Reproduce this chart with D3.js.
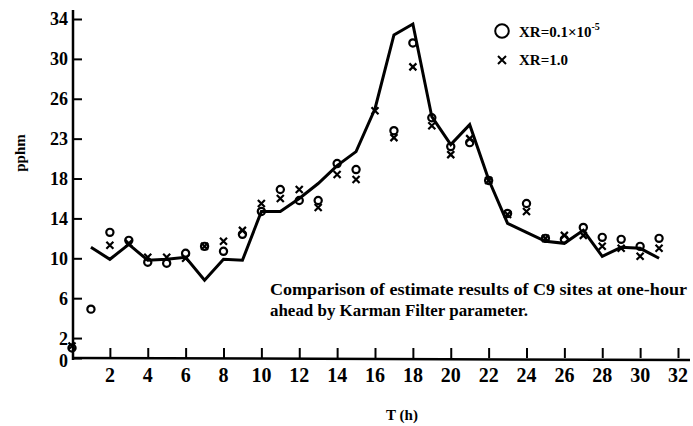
<!DOCTYPE html>
<html>
<head>
<meta charset="utf-8">
<script src="https://cdn.jsdelivr.net/npm/d3@7"></script>
<style>
html,body{margin:0;padding:0;background:#fff;}
svg{display:block;}
text{font-family:"Liberation Serif","DejaVu Serif",serif;font-weight:bold;fill:#000;}
</style>
</head>
<body>
<svg id="chart" width="693" height="426"></svg>
<script>
// Solid line (actual)
const lineHours = [1,2,3,4,5,6,7,8,9,10,11,12,13,14,15,16,17,18,19,20,21,22,23,24,25,26,27,28,29,30,31];
const lineValues = [11.1,9.9,11.4,9.8,9.9,10.1,7.8,9.9,9.8,14.7,14.7,16.0,17.5,19.3,20.7,25.0,32.4,33.5,24.2,21.4,23.4,17.9,13.5,12.6,11.7,11.5,12.8,10.2,11.1,11.0,10.0];

// Markers: circles (XR=0.1x10^-5) and crosses (XR=1.0)
const markerHours = [0,1,2,3,4,5,6,7,8,9,10,11,12,13,14,15,16,17,18,19,20,21,22,23,24,25,26,27,28,29,30,31];
const circleValues = [1.0,4.9,12.6,11.8,9.6,9.5,10.5,11.2,10.7,12.4,14.7,16.9,15.8,15.8,19.5,18.9,null,22.8,31.6,24.1,21.2,21.6,17.8,14.5,15.5,12.0,11.9,13.1,12.1,11.9,11.2,12.0];
const crossValues  = [1.2,null,11.3,11.5,10.1,10.1,10.0,11.2,11.7,12.8,15.5,16.0,16.9,15.1,18.4,17.9,24.8,22.1,29.2,23.3,20.4,22.0,17.8,14.4,14.7,12.0,12.3,12.3,11.2,11.0,10.2,11.0];

const xTicks = [2,4,6,8,10,12,14,16,18,20,22,24,26,28,30,32];
const yTicks = [0,2,6,10,14,18,22,26,30,34];
const yTickLabels = ["0","2","6","10","14","18","23","26","30","34"];

const svg = d3.select("#chart");
const x = d3.scaleLinear().domain([0,32]).range([72,678]);
const y = d3.scaleLinear().domain([0,34]).range([358,19]);

// Y axis
const yAxis = d3.axisRight(y).tickValues(yTicks).tickSize(9).tickFormat("");
const gy = svg.append("g").attr("transform","translate(73,0)").call(yAxis);
gy.select(".domain").remove();
gy.selectAll("line").attr("stroke","#000").attr("stroke-width",2);
svg.append("line").attr("x1",73).attr("x2",73).attr("y1",10).attr("y2",360)
  .attr("stroke","#000").attr("stroke-width",2.5);
svg.append("g").selectAll("text").data(yTicks).join("text")
  .attr("x",68).attr("y",d=>y(d)).attr("dy",d=>d===0?"0.5em":"0.36em")
  .attr("text-anchor","end").style("font-size","18px")
  .text((d,i)=>yTickLabels[i]);

// X axis
const xAxis = d3.axisTop(x).tickValues(xTicks).tickSize(10).tickFormat("");
const gx = svg.append("g").attr("transform",`translate(0,${y(0)})`).call(xAxis);
gx.select(".domain").remove();
gx.selectAll("line").attr("stroke","#000").attr("stroke-width",2);
svg.append("line").attr("x1",72).attr("x2",690).attr("y1",y(0)).attr("y2",y(0)+2)
  .attr("stroke","#000").attr("stroke-width",2.5);
svg.append("g").selectAll("text").data(xTicks).join("text")
  .attr("x",d=>x(d)).attr("y",382)
  .attr("text-anchor","middle").style("font-size","20px")
  .text(d=>d);

// Axis titles
svg.append("text").attr("x",402).attr("y",420).attr("text-anchor","middle")
  .style("font-size","15px").text("T (h)");
svg.append("text").attr("transform","translate(25,153) rotate(-90)")
  .attr("text-anchor","middle").style("font-size","15px").text("pphm");

// Line
const line = d3.line().x((d,i)=>x(lineHours[i])).y(d=>y(d));
svg.append("path").datum(lineValues).attr("d",line)
  .attr("fill","none").attr("stroke","#000").attr("stroke-width",3)
  .attr("stroke-linejoin","miter");

// Circles
svg.append("g").selectAll("circle")
  .data(circleValues.map((v,i)=>({t:markerHours[i],v})).filter(d=>d.v!==null))
  .join("circle")
  .attr("cx",d=>x(d.t)).attr("cy",d=>y(d.v)).attr("r",3.6)
  .attr("fill","none").attr("stroke","#000").attr("stroke-width",2.2);

// Crosses
const cs = 3.5;
const crossG = svg.append("g");
crossValues.forEach((v,i)=>{
  if(v===null) return;
  const cx = x(markerHours[i]), cy = y(v);
  crossG.append("path")
    .attr("d",`M${cx-cs},${cy-cs}L${cx+cs},${cy+cs}M${cx+cs},${cy-cs}L${cx-cs},${cy+cs}`)
    .attr("stroke","#000").attr("stroke-width",2.2).attr("fill","none");
});

// Legend
svg.append("circle").attr("cx",502).attr("cy",31).attr("r",6.8)
  .attr("fill","none").attr("stroke","#000").attr("stroke-width",2);
const lt = svg.append("text").attr("x",519).attr("y",37).style("font-size","15px");
lt.append("tspan").text("XR=0.1×10");
lt.append("tspan").attr("dy",-7).style("font-size","10px").text("-5");
svg.append("path").attr("d","M498,56L506,64M506,56L498,64")
  .attr("stroke","#000").attr("stroke-width",2);
svg.append("text").attr("x",519).attr("y",65).style("font-size","15px").text("XR=1.0");

// Annotation
svg.append("text").attr("x",270).attr("y",295).style("font-size","16px")
  .attr("textLength",417).attr("lengthAdjust","spacingAndGlyphs")
  .text("Comparison of estimate results of C9 sites at one-hour");
svg.append("text").attr("x",270).attr("y",316).style("font-size","16px")
  .attr("textLength",258).attr("lengthAdjust","spacingAndGlyphs")
  .text("ahead by Karman Filter parameter.");
</script>
</body>
</html>
